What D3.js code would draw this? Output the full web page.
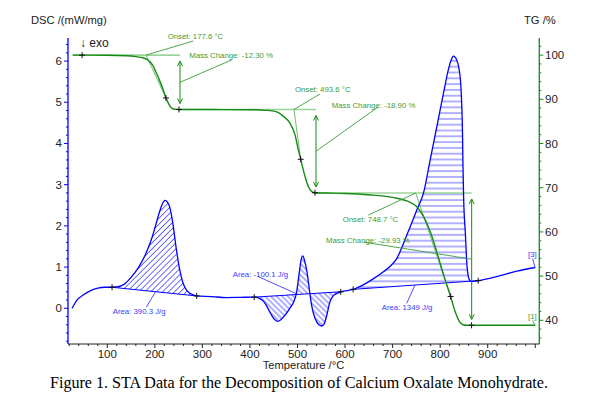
<!DOCTYPE html>
<html><head><meta charset="utf-8">
<script src="https://cdn.jsdelivr.net/npm/d3@7"></script>
<style>body{margin:0;background:#fff}svg{display:block}</style>
</head><body>
<svg id="chart" width="606" height="405"></svg>
<script>
// ---------- data ----------
const xTickValues = [100, 200, 300, 400, 500, 600, 700, 800, 900];
const dscTickValues = [0, 1, 2, 3, 4, 5, 6];
const tgTickValues = [40, 50, 60, 70, 80, 90, 100];

// TG curve (%)
const tgTemp = [28, 100, 140, 160, 175, 185, 195, 203, 211, 218, 223, 228, 233, 239, 245, 251, 320, 400, 435, 455, 470, 484, 495, 501, 507, 516, 523, 530, 537, 560, 600, 650, 700, 730, 750, 765, 780, 795, 808, 822, 832, 840, 848, 856, 866, 1000];
const tgValue = [100, 99.97, 99.85, 99.65, 99.4, 98.9, 97.8, 96.0, 94.0, 92.0, 90.4, 89.2, 88.3, 87.8, 87.72, 87.7, 87.68, 87.65, 87.5, 87.2, 86.2, 84.6, 81.9, 78.9, 76.3, 72.5, 70.2, 69.1, 68.85, 68.8, 68.7, 68.4, 67.8, 67.0, 65.8, 63.5, 59.8, 54.7, 50.0, 45.4, 41.8, 39.8, 39.0, 38.88, 38.87, 38.87];

// DSC curve (mW/mg)
const dscTemp = [26, 35, 50, 65, 80, 95, 110, 125, 135, 150, 165, 180, 195, 205, 213, 221, 230, 238, 245, 252, 259, 268, 278, 288, 320, 350, 380, 409, 420, 430, 440, 450, 458, 465, 475, 485, 492, 498, 503, 508, 511, 515, 520, 525, 530, 537, 545, 551, 556, 561, 568, 575, 583, 591, 600, 617, 640, 660, 680, 695, 709, 722, 737, 751, 765, 779, 793, 807, 817, 823, 828, 835, 842, 845, 847, 848, 849.5, 853, 856.6, 861.5, 866, 880, 926, 961, 1000];
const dscValue = [0.0, 0.18, 0.33, 0.43, 0.49, 0.51, 0.51, 0.53, 0.58, 0.75, 0.98, 1.30, 1.75, 2.15, 2.45, 2.62, 2.50, 2.05, 1.45, 0.95, 0.62, 0.42, 0.34, 0.30, 0.285, 0.26, 0.265, 0.27, 0.24, 0.15, -0.05, -0.25, -0.32, -0.28, -0.15, 0.02, 0.15, 0.38, 0.80, 1.20, 1.27, 1.15, 0.88, 0.45, 0.05, -0.25, -0.40, -0.43, -0.38, -0.20, 0.15, 0.30, 0.36, 0.40, 0.42, 0.46, 0.58, 0.72, 0.88, 1.02, 1.21, 1.55, 1.98, 2.39, 2.80, 3.60, 4.41, 5.22, 5.78, 6.02, 6.12, 6.02, 5.62, 5.06, 4.25, 3.44, 2.63, 1.82, 1.01, 0.69, 0.65, 0.67, 0.79, 0.90, 0.99];

// TG evaluation steps
const stepOnset = [177.6, 493.6, 748.7];
const stepMassChange = [-12.30, -18.90, -29.93];
const stepStartLevel = [100, 87.7, 68.8];
const stepOnsetT = [181.4, 492.6, 748.7];
const stepInflectionT = [223.4, 506.7, 822];
const stepEndT = [252.9, 538.9, 866.3];
const tgMarkerT = [47, 223.4, 250.8, 506.7, 536.8, 822, 866];

// DSC peak evaluations
const peakStartT = [110, 409, 617];
const peakEndT = [288, 591, 880];
const peakArea = ["390.3", "-100.1", "1349"];
const dscMarkerT = [110, 288, 409, 591, 617, 880];

// ---------- layout ----------
const svg = d3.select("#chart");
const x = d3.scaleLinear().domain([17.35, 1008.5]).range([68, 539.3]);
const yL = d3.scaleLinear().domain([-0.867, 6.56]).range([344, 38]);
const yR = d3.scaleLinear().domain([34.64, 103.87]).range([344, 38]);

const BLUE = "#0000ff", HATCH = "#3a3aff", GREEN = "#168a16", AGREEN = "#3a9d3a", LGREEN = "#9ad49a";
const FONT = "'Liberation Sans', Arial, sans-serif";

const tgData = tgTemp.map((t, i) => [t, tgValue[i]]);
const dscData = dscTemp.map((t, i) => [t, dscValue[i]]);
const interp = (data, t) => {
  for (let i = 1; i < data.length; i++) {
    if (t <= data[i][0]) {
      const a = data[i - 1], b = data[i];
      return a[1] + (b[1] - a[1]) * (t - a[0]) / (b[0] - a[0]);
    }
  }
  return data[data.length - 1][1];
};

const defs = svg.append("defs");
function hatch(id, angle, gap) {
  const p = defs.append("pattern").attr("id", id).attr("patternUnits", "userSpaceOnUse")
    .attr("width", 40).attr("height", gap).attr("patternTransform", `rotate(${angle})`);
  p.append("line").attr("x1", 0).attr("x2", 40).attr("y1", gap / 2).attr("y2", gap / 2)
    .attr("stroke", HATCH).attr("stroke-width", 0.8);
}
hatch("h1", -45, 4.2);
hatch("h2", 45, 4.0);
hatch("h3", 0, 5.8);

const dscLine = d3.line().x(d => x(d[0])).y(d => yL(d[1])).curve(d3.curveMonotoneX);
const tgLine = d3.line().x(d => x(d[0])).y(d => yR(d[1])).curve(d3.curveMonotoneX);

// hatched peak areas
const patterns = ["url(#h1)", "url(#h2)", "url(#h3)"];
peakStartT.forEach((t0, k) => {
  const t1 = peakEndT[k];
  const sub = dscData.filter(d => d[0] >= t0 && d[0] <= t1);
  svg.append("path").attr("d", dscLine(sub) + "Z").attr("fill", patterns[k]).attr("stroke", "none");
  // baseline
  svg.append("line").attr("x1", x(t0)).attr("y1", yL(interp(dscData, t0)))
    .attr("x2", x(t1)).attr("y2", yL(interp(dscData, t1)))
    .attr("stroke", BLUE).attr("stroke-width", 1);
});

// TG light baselines and tangents
stepStartLevel.forEach((lvl, k) => {
  const from = k === 0 ? 26 : stepEndT[k - 1] - 4;
  svg.append("line").attr("x1", x(from)).attr("x2", x(stepEndT[k]))
    .attr("y1", yR(lvl)).attr("y2", yR(lvl)).attr("stroke", LGREEN).attr("stroke-width", 1.6);
  svg.append("line").attr("x1", x(stepOnsetT[k])).attr("y1", yR(lvl))
    .attr("x2", x(stepInflectionT[k])).attr("y2", yR(interp(tgData, stepInflectionT[k])))
    .attr("stroke", "#6fbf6f").attr("stroke-width", 1);
});

// curves
svg.append("path").attr("d", dscLine(dscData)).attr("fill", "none").attr("stroke", BLUE).attr("stroke-width", 1.3);
svg.append("path").attr("d", tgLine(tgData)).attr("fill", "none").attr("stroke", GREEN).attr("stroke-width", 1.4);

// markers
function plus(cx, cy) {
  svg.append("path").attr("d", `M${cx - 3},${cy}H${cx + 3}M${cx},${cy - 3}V${cy + 3}`)
    .attr("stroke", "#111").attr("stroke-width", 1);
}
tgMarkerT.forEach(t => plus(x(t), yR(interp(tgData, t))));
dscMarkerT.forEach(t => plus(x(t), yL(interp(dscData, t))));

// ---------- axes ----------
const g = svg.append("g");
// left
g.append("line").attr("x1", 68).attr("x2", 68).attr("y1", 38).attr("y2", 344).attr("stroke", BLUE).attr("stroke-width", 1.3);
d3.range(-0.8, 6.5, 0.2).forEach(v => {
  const major = Math.abs(v - Math.round(v)) < 1e-6;
  g.append("line").attr("x1", 68 - (major ? 4 : 2)).attr("x2", 68).attr("y1", yL(v)).attr("y2", yL(v)).attr("stroke", BLUE).attr("stroke-width", 1);
});
dscTickValues.forEach(v => g.append("text").attr("x", 62).attr("y", yL(v) + 4).attr("text-anchor", "end")
  .attr("font-family", FONT).attr("font-size", 11.5).attr("fill", "#222").text(v));
// right
g.append("line").attr("x1", 539.3).attr("x2", 539.3).attr("y1", 38).attr("y2", 344).attr("stroke", GREEN).attr("stroke-width", 1.3);
d3.range(36, 104, 2).forEach(v => {
  const major = v % 10 === 0;
  g.append("line").attr("x1", 539.3).attr("x2", 539.3 + (major ? 4 : 2)).attr("y1", yR(v)).attr("y2", yR(v)).attr("stroke", GREEN).attr("stroke-width", 1);
});
tgTickValues.forEach(v => g.append("text").attr("x", 545).attr("y", yR(v) + 4)
  .attr("font-family", FONT).attr("font-size", 11.5).attr("fill", "#222").text(v));
// bottom
g.append("line").attr("x1", 68).attr("x2", 539.3).attr("y1", 344).attr("y2", 344).attr("stroke", "#222").attr("stroke-width", 1);
d3.range(20, 1001, 20).forEach(v => {
  const major = v % 100 === 0;
  g.append("line").attr("x1", x(v)).attr("x2", x(v)).attr("y1", 344).attr("y2", 344 + (major ? 4 : 2)).attr("stroke", "#222").attr("stroke-width", 1);
});
xTickValues.forEach(v => g.append("text").attr("x", x(v)).attr("y", 358).attr("text-anchor", "middle")
  .attr("font-family", FONT).attr("font-size", 11.5).attr("fill", "#222").text(v));

// titles
const txt = (tx, ty, s, opts = {}) => svg.append("text").attr("x", tx).attr("y", ty)
  .attr("font-family", opts.family || FONT).attr("font-size", opts.size || 11)
  .attr("fill", opts.fill || "#222").attr("text-anchor", opts.anchor || "start").text(s);
txt(31, 24, "DSC /(mW/mg)", {size: 11.2});
txt(524, 24, "TG /%", {size: 11.2});
txt(303.5, 369, "Temperature /°C", {size: 11.2, anchor: "middle"});
txt(80, 47, "↓ exo", {size: 12});
const cap = txt(50, 388, "Figure 1. STA Data for the Decomposition of Calcium Oxalate Monohydrate.",
  {family: "'Liberation Serif', 'Times New Roman', serif", size: 15, fill: "#000"});
const cl = cap.node().getComputedTextLength();
cap.attr("font-size", 15 * 498 / cl);

// ---------- annotations ----------
const ann = (t1, v1, t2, v2, sc, col) => svg.append("line")
  .attr("x1", x(t1)).attr("y1", sc(v1)).attr("x2", x(t2)).attr("y2", sc(v2))
  .attr("stroke", col).attr("stroke-width", 0.9);
const small = (t, v, sc, s, col) => txt(x(t), sc(v), s, {size: 7.8, fill: col});

function dblArrow(t, vTop, vBot) {
  const cx = x(t), a = yR(vTop) + 6, b = yR(vBot) - 6;
  svg.append("line").attr("x1", cx).attr("x2", cx).attr("y1", a).attr("y2", b).attr("stroke", GREEN).attr("stroke-width", 1);
  svg.append("path").attr("d", `M${cx - 2.5},${a + 5}L${cx},${a}L${cx + 2.5},${a + 5}M${cx - 2.5},${b - 5}L${cx},${b}L${cx + 2.5},${b - 5}`)
    .attr("fill", "none").attr("stroke", GREEN).attr("stroke-width", 1);
}
const onsetLabelPos = [[227, 103.6], [494.7, 91.6], [595, 62.3]];
const onsetLeaderEnd = [[281, 103.2], [547.3, 91.2], [648.9, 63.8]];
const massLabelPos = [[272.5, 99.4], [571.9, 88.0], [560, 57.5]];
const massLeaderEnd = [[361.6, 98.9], [669.9, 88.3], [638.4, 57.7]];
stepOnset.forEach((o, k) => {
  const endLvl = stepStartLevel[k] + stepMassChange[k];
  ann(stepOnsetT[k], stepStartLevel[k], onsetLeaderEnd[k][0], onsetLeaderEnd[k][1], yR, AGREEN);
  small(onsetLabelPos[k][0], onsetLabelPos[k][1], yR, `Onset: ${o.toFixed(1)} °C`, AGREEN);
  dblArrow(stepEndT[k], stepStartLevel[k], endLvl);
  const mid = (stepStartLevel[k] + endLvl) / 2;
  ann(stepEndT[k], mid, massLeaderEnd[k][0], massLeaderEnd[k][1], yR, AGREEN);
  small(massLabelPos[k][0], massLabelPos[k][1], yR, `Mass Change: ${stepMassChange[k].toFixed(2)} %`, AGREEN);
});
small(984.8, 40.3, yR, "[1]", AGREEN);
ann(994.6, 40.0, 999.5, 38.87, yR, AGREEN);

const areaLabelPos = [[111.4, -0.13], [363.7, 0.76], [677.1, -0.04]];
const areaLeader = [[182.3, 0.03, 201.3, 0.40], [417.6, 0.767, 498.3, 0.35], [729.7, 0.12, 747.1, 0.566]];
peakArea.forEach((a, k) => {
  small(areaLabelPos[k][0], areaLabelPos[k][1], yL, `Area: ${a} J/g`, "#3a3aff");
  const L = areaLeader[k];
  ann(L[0], L[1], L[2], L[3], yL, "#3a3aff");
});
small(984.8, 1.245, yL, "[3]", "#3a3aff");
ann(994.6, 1.21, 999.5, 0.99, yL, "#3a3aff");
</script>
</body></html>
